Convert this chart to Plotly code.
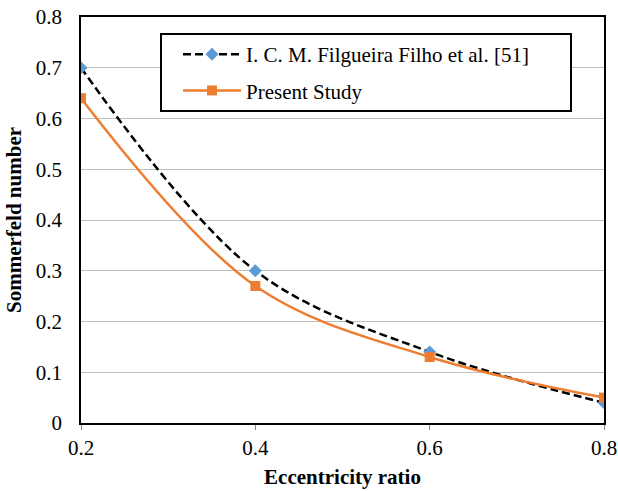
import plotly.graph_objects as go

# Eccentricity ratio vs Sommerfeld number
eccentricity = [0.2, 0.4, 0.6, 0.8]
filgueira = [0.70, 0.30, 0.14, 0.04]
present = [0.64, 0.27, 0.13, 0.05]

y_ticks = [0, 0.1, 0.2, 0.3, 0.4, 0.5, 0.6, 0.7, 0.8]
x_ticks = [0.2, 0.4, 0.6, 0.8]

FONT = "Liberation Serif"
W, H = 618, 491
L, R, T, B = 81, 14, 17, 68
PW, PH = W - L - R, H - T - B


def px_x(p):
    return (p - L) / PW


def px_y(p):
    return (H - B - p) / PH


fig = go.Figure()
fig.add_trace(go.Scatter(
    x=eccentricity, y=filgueira, mode="lines+markers",
    name="I. C. M. Filgueira Filho et al. [51]", legendgroup="a",
    line=dict(color="black", width=2.5, dash="8px,4px", shape="spline", smoothing=1),
    marker=dict(symbol="diamond", size=10, color="#5b9bd5"),
))
fig.add_trace(go.Scatter(
    x=eccentricity, y=present, mode="lines+markers",
    name="Present Study", legendgroup="b",
    line=dict(color="#ed7d31", width=2.5, shape="spline", smoothing=1),
    marker=dict(symbol="square", size=10, color="#ed7d31"),
))

# legend frame
fig.add_shape(
    type="rect", xref="paper", yref="paper",
    x0=px_x(161), x1=px_x(571), y0=px_y(111), y1=px_y(34),
    line=dict(color="black", width=2), fillcolor="white", layer="above",
)

tick_font = dict(family=FONT, size=21, color="black")
title_font = dict(family=FONT, size=21, color="black")

fig.update_layout(
    width=W, height=H,
    margin=dict(l=L, r=R, t=T, b=B),
    paper_bgcolor="white", plot_bgcolor="white",
    font=dict(family=FONT, size=21, color="black"),
    showlegend=True,
    legend=dict(
        x=px_x(178), y=px_y(34), xanchor="left", yanchor="top",
        borderwidth=0, bgcolor="rgba(0,0,0,0)",
        font=dict(family=FONT, size=21, color="black"),
        tracegroupgap=6, itemwidth=58,
    ),
    xaxis=dict(
        range=[0.2, 0.8], tickvals=x_ticks, ticktext=[f"{v:g}" for v in x_ticks],
        showgrid=False, zeroline=False, automargin=False,
        showline=True, linecolor="black", linewidth=1.5, mirror=True,
        ticks="outside", ticklen=5, tickcolor="#888888",
        ticklabeloverflow="allow", tickfont=tick_font,
        title=dict(text="<b>Eccentricity ratio</b>", font=title_font, standoff=10),
    ),
    yaxis=dict(
        range=[0, 0.8], tickvals=y_ticks, ticktext=[f"{v:g}" for v in y_ticks],
        showgrid=True, gridcolor="#bfbfbf", gridwidth=1, zeroline=False, automargin=False,
        showline=True, linecolor="black", linewidth=1.5, mirror=True,
        ticks="", ticklabelstandoff=13, tickfont=tick_font,
        title=dict(text="<b>Sommerfeld number</b>", font=title_font, standoff=8),
    ),
)

fig.write_html("out.html")
